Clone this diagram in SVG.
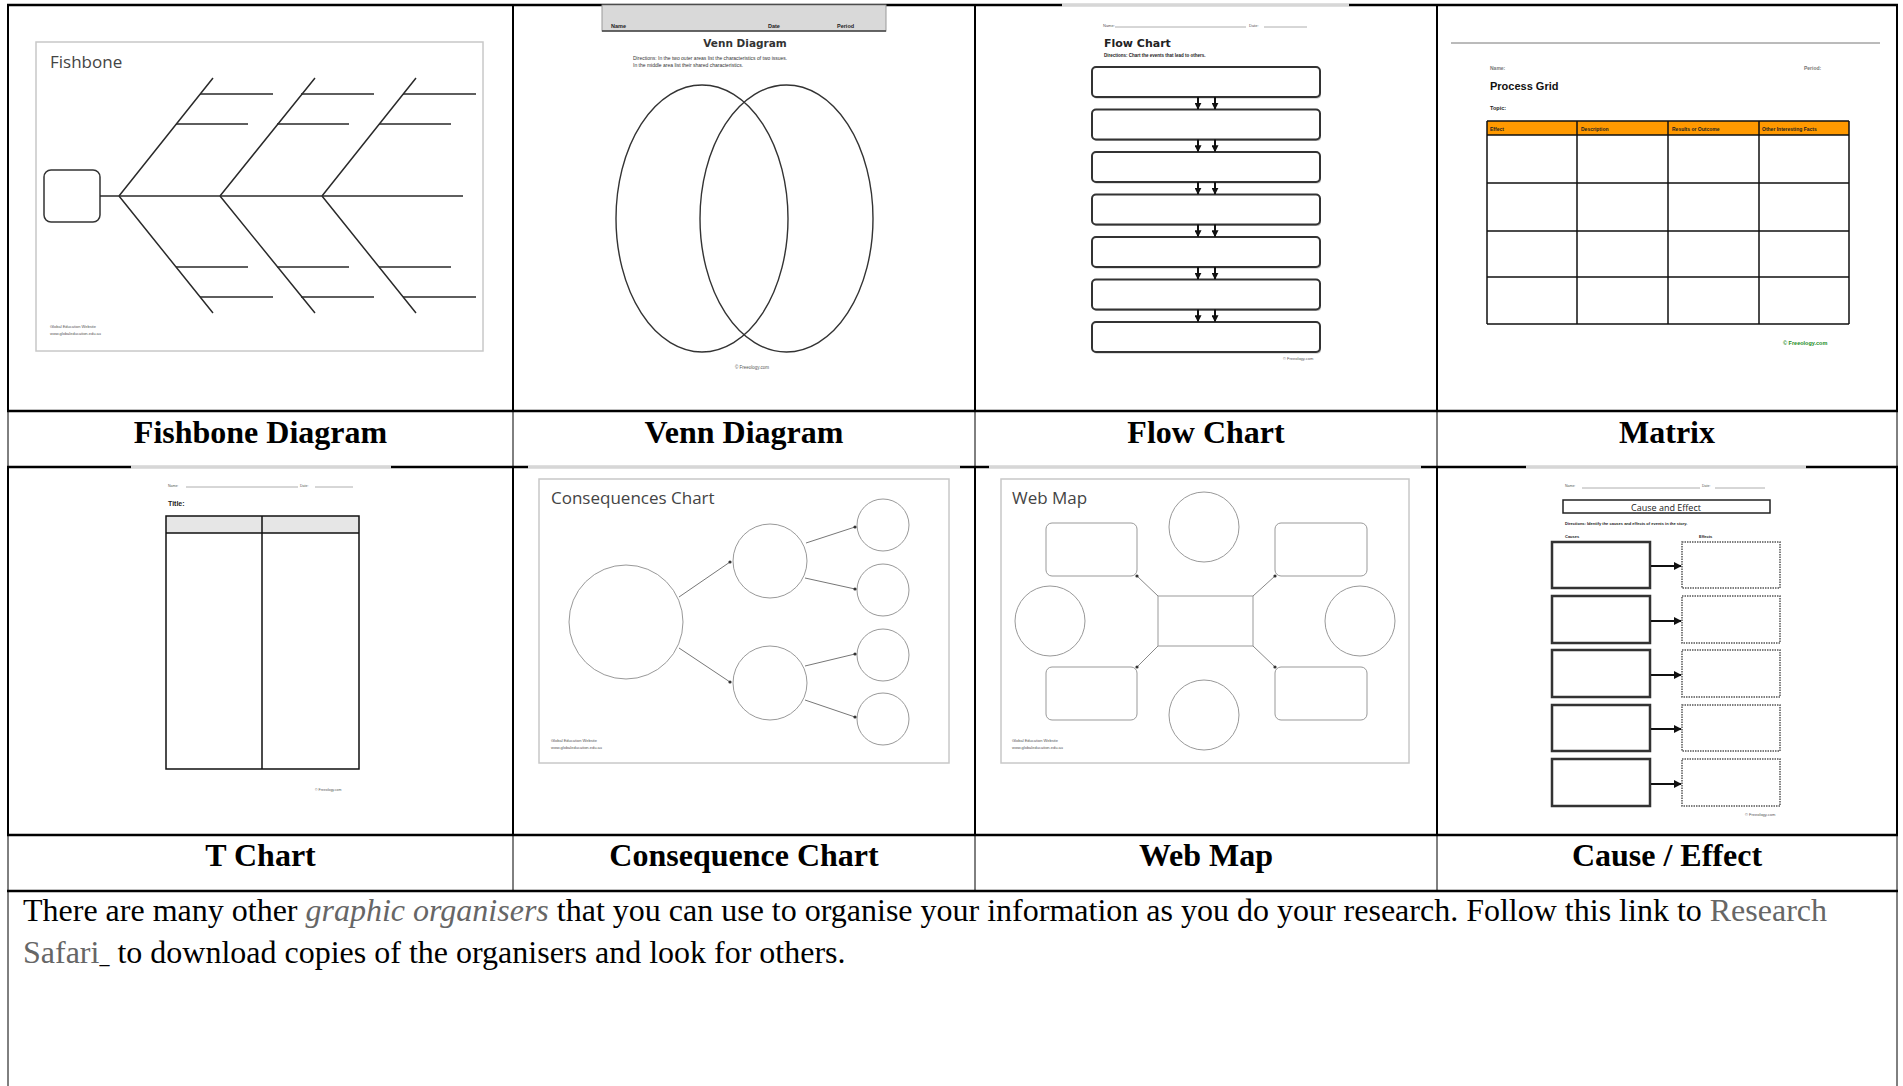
<svg xmlns="http://www.w3.org/2000/svg" width="1903" height="1086" viewBox="0 0 1903 1086">
<style>
.bd{stroke:#000;fill:none}
.lbl{font-family:"Liberation Serif","Times New Roman",serif;font-weight:bold;font-size:32px;fill:#000;text-anchor:middle}
.body{font-family:"Liberation Serif","Times New Roman",serif;font-size:32px;fill:#000}
.gr{fill:#666}
.frame{fill:#fff;stroke:#c8c8c8;stroke-width:1.5}
.ttl{font-family:"Open Sans","Noto Sans",sans-serif;font-size:17px;fill:#444}
.bone{stroke:#2a2a2a;stroke-width:1.5;fill:none}
.thin{stroke:#8a8a8a;stroke-width:1;fill:none}
.tiny{font-family:"Liberation Sans",Arial,sans-serif;font-size:4.5px;fill:#555}
.tinyb{font-family:"Liberation Sans",Arial,sans-serif;font-size:5px;font-weight:bold;fill:#222}
.ov{fill:#fff}
.ovl{stroke:#999;stroke-width:0.8}
.fbox{fill:#fff;stroke:#333;stroke-width:2}
.gridl{stroke:#111;stroke-width:1.5;fill:none}
.cbox{fill:#fff;stroke:#333;stroke-width:2.5}
.ebox{fill:#fff;stroke:#555;stroke-width:1.5;stroke-dasharray:1.5 1}
.dot{fill:#333}
</style>
<defs>
<marker id="ah" viewBox="0 0 10 10" refX="9" refY="5" markerWidth="4" markerHeight="4" orient="auto-start-reverse"><path d="M0,0 L10,5 L0,10 z" fill="#111"/></marker>
<marker id="ahf" viewBox="0 0 10 10" refX="9" refY="5" markerWidth="3.5" markerHeight="3.5" orient="auto"><path d="M0,0 L10,5 L0,10 z" fill="#111"/></marker>
</defs>
<rect x="0" y="0" width="1903" height="1086" fill="#fff"/>

<g id="table-borders">
<line class="bd" x1="7" y1="5" x2="1898" y2="5" stroke-width="2.5"/>
<line class="bd" x1="7" y1="411" x2="1898" y2="411" stroke-width="2.5"/>
<line class="bd" x1="7" y1="467" x2="1898" y2="467" stroke-width="2.5"/>
<line class="bd" x1="7" y1="835" x2="1898" y2="835" stroke-width="2.5"/>
<line class="bd" x1="7" y1="891" x2="1898" y2="891" stroke-width="2.5"/>
<g stroke-width="2">
<line class="bd" x1="8" y1="5" x2="8" y2="411"/><line class="bd" x1="513" y1="5" x2="513" y2="411"/><line class="bd" x1="975" y1="5" x2="975" y2="411"/><line class="bd" x1="1437" y1="5" x2="1437" y2="411"/><line class="bd" x1="1897" y1="5" x2="1897" y2="411"/>
<line class="bd" x1="8" y1="467" x2="8" y2="835"/><line class="bd" x1="513" y1="467" x2="513" y2="835"/><line class="bd" x1="975" y1="467" x2="975" y2="835"/><line class="bd" x1="1437" y1="467" x2="1437" y2="835"/><line class="bd" x1="1897" y1="467" x2="1897" y2="835"/>
</g>
<g stroke-width="1">
<line class="bd" x1="8" y1="411" x2="8" y2="467"/><line class="bd" x1="513" y1="411" x2="513" y2="467"/><line class="bd" x1="975" y1="411" x2="975" y2="467"/><line class="bd" x1="1437" y1="411" x2="1437" y2="467"/><line class="bd" x1="1897" y1="411" x2="1897" y2="467"/>
<line class="bd" x1="8" y1="835" x2="8" y2="891"/><line class="bd" x1="513" y1="835" x2="513" y2="891"/><line class="bd" x1="975" y1="835" x2="975" y2="891"/><line class="bd" x1="1437" y1="835" x2="1437" y2="891"/><line class="bd" x1="1897" y1="835" x2="1897" y2="891"/>
<line class="bd" x1="8" y1="891" x2="8" y2="1086"/><line class="bd" x1="1897" y1="891" x2="1897" y2="1086"/>
</g>
</g>

<g id="fishbone">
<rect class="frame" x="36" y="42" width="447" height="309"/>
<text class="ttl" x="50" y="68">Fishbone</text>
<rect x="44" y="170" width="56" height="52" rx="7" fill="none" stroke="#333" stroke-width="1.5"/>
<line class="bone" x1="100" y1="196" x2="463" y2="196"/>
<path class="bone" d="M119,196 L213,78 M119,196 L213,313 M220,196 L315,78 M220,196 L315,313 M322,196 L416,78 M322,196 L416,313"/>
<path class="bone" d="M200,94 H273 M176,124 H248 M301,94 H374 M277,124 H349 M403,94 H476 M379,124 H451 M176,267 H248 M200,297 H273 M277,267 H349 M301,297 H374 M379,267 H451 M403,297 H476"/>
<text class="tiny" x="50" y="328" style="font-size:4px">Global Education Website</text>
<text class="tiny" x="50" y="335" style="font-size:4px">www.globaleducation.edu.au</text>
</g>

<g id="venn">
<rect x="602" y="5" width="284" height="26" fill="#d9d9d9" stroke="#999" stroke-width="1"/>
<line x1="602" y1="31" x2="886" y2="31" stroke="#444" stroke-width="1.5"/>
<text class="tinyb" x="611" y="28" style="font-size:5.5px">Name</text>
<text class="tinyb" x="768" y="28" style="font-size:5.5px">Date</text>
<text class="tinyb" x="837" y="28" style="font-size:5.5px">Period</text>
<text x="745" y="47" text-anchor="middle" font-family="'DejaVu Sans',Verdana,sans-serif" font-weight="bold" font-size="10.5" fill="#333">Venn Diagram</text>
<text class="tiny" x="633" y="60" style="font-size:5px;fill:#333">Directions: In the two outer areas list the characteristics of two issues.</text>
<text class="tiny" x="633" y="67" style="font-size:5px;fill:#333">In the middle area list their shared characteristics.</text>
<ellipse cx="702" cy="218.5" rx="86" ry="133.5" fill="none" stroke="#333" stroke-width="1.4"/>
<ellipse cx="786.5" cy="218.5" rx="86.5" ry="133.5" fill="none" stroke="#333" stroke-width="1.4"/>
<text class="tiny" x="752" y="369" text-anchor="middle">© Freeology.com</text>
</g>

<g id="flow-chart">
<rect class="ov" x="1062" y="3.5" width="287" height="3"/>
<line class="ovl" x1="1062" y1="5" x2="1349" y2="5"/>
<text class="tiny" x="1103" y="27" style="font-size:4px">Name:</text>
<line class="ovl" x1="1115" y1="27" x2="1246" y2="27"/>
<text class="tiny" x="1249" y="27" style="font-size:4px">Date:</text>
<line class="ovl" x1="1264" y1="27" x2="1307" y2="27"/>
<text x="1104" y="47" font-family="'DejaVu Sans',Verdana,sans-serif" font-weight="bold" font-size="11" fill="#222">Flow Chart</text>
<text class="tinyb" x="1104" y="57" style="font-size:4.5px">Directions: Chart the events that lead to others.</text>
<g fill="#bbb">
<rect x="1093" y="68.5" width="228" height="30" rx="4"/><rect x="1093" y="111" width="228" height="30" rx="4"/><rect x="1093" y="153.5" width="228" height="30" rx="4"/><rect x="1093" y="196" width="228" height="30" rx="4"/><rect x="1093" y="238.5" width="228" height="30" rx="4"/><rect x="1093" y="281" width="228" height="30" rx="4"/><rect x="1093" y="323.5" width="228" height="30" rx="4"/>
</g>
<rect class="fbox" x="1092" y="67" width="228" height="30" rx="4"/>
<rect class="fbox" x="1092" y="109.5" width="228" height="30" rx="4"/>
<rect class="fbox" x="1092" y="152" width="228" height="30" rx="4"/>
<rect class="fbox" x="1092" y="194.5" width="228" height="30" rx="4"/>
<rect class="fbox" x="1092" y="237" width="228" height="30" rx="4"/>
<rect class="fbox" x="1092" y="279.5" width="228" height="30" rx="4"/>
<rect class="fbox" x="1092" y="322" width="228" height="30" rx="4"/>
<text class="tiny" x="1283" y="360" style="font-size:4px">© Freeology.com</text>
</g>

<g id="matrix">
<line x1="1451" y1="43" x2="1880" y2="43" stroke="#777" stroke-width="1"/>
<text class="tinyb" x="1490" y="70" style="fill:#777">Name:</text>
<text class="tinyb" x="1804" y="70" style="fill:#777">Period:</text>
<text x="1490" y="90" font-family="'Liberation Sans',Arial,sans-serif" font-weight="bold" font-size="11" fill="#111">Process Grid</text>
<text class="tinyb" x="1490" y="110" style="font-size:5.5px">Topic:</text>
<rect x="1487" y="121" width="362" height="14" fill="#ff9900"/>
<path class="gridl" d="M1487,121 V324 M1577,121 V324 M1668,121 V324 M1759,121 V324 M1849,121 V324 M1487,121 H1849 M1487,135 H1849 M1487,183 H1849 M1487,231 H1849 M1487,277 H1849 M1487,324 H1849"/>
<text class="tinyb" x="1490" y="130.5">Effect</text>
<text class="tinyb" x="1581" y="130.5">Description</text>
<text class="tinyb" x="1672" y="130.5">Results or Outcome</text>
<text class="tinyb" x="1762" y="130.5">Other Interesting Facts</text>
<text class="tinyb" x="1783" y="345" style="font-size:5.5px;fill:#1a8c1a">© Freeology.com</text>
</g>

<g id="t-chart">
<rect class="ov" x="131" y="465.5" width="260" height="3"/>
<line class="ovl" x1="131" y1="467" x2="391" y2="467"/>
<text class="tiny" x="168" y="487" style="font-size:3.5px">Name:</text>
<line class="ovl" x1="186" y1="487" x2="298" y2="487"/>
<text class="tiny" x="300" y="487" style="font-size:3.5px">Date:</text>
<line class="ovl" x1="315" y1="487" x2="353" y2="487"/>
<text class="tinyb" x="168" y="506" style="font-size:7px">Title:</text>
<rect x="166" y="516" width="193" height="17" fill="#e6e6e6"/>
<path class="gridl" d="M166,516 H359 V769 H166 Z M166,533 H359 M262,516 V769"/>
<text class="tiny" x="315" y="791" style="font-size:3.5px">© Freeology.com</text>
</g>

<g id="consequence-chart">
<rect class="ov" x="528" y="465.5" width="432" height="3"/>
<line class="ovl" x1="528" y1="467" x2="960" y2="467"/>
<rect class="frame" x="539" y="479" width="410" height="284"/>
<text class="ttl" x="551" y="504">Consequences Chart</text>
<g fill="none" stroke="#999" stroke-width="1">
<circle cx="626" cy="622" r="57"/>
<circle cx="770" cy="561" r="37"/><circle cx="770" cy="683" r="37"/>
<circle cx="883" cy="525" r="26"/><circle cx="883" cy="590" r="26"/><circle cx="883" cy="655" r="26"/><circle cx="883" cy="719" r="26"/>
</g>
<path d="M679,597 L730,562 M679,648 L730,682 M806,543 L855,527 M805,578 L855,589 M805,666 L855,654 M805,700 L855,717" stroke="#777" stroke-width="1" fill="none"/>
<g class="dot"><circle cx="730" cy="562" r="1.6"/><circle cx="730" cy="682" r="1.6"/><circle cx="855" cy="527" r="1.6"/><circle cx="855" cy="589" r="1.6"/><circle cx="855" cy="654" r="1.6"/><circle cx="855" cy="717" r="1.6"/></g>
<text class="tiny" x="551" y="742" style="font-size:4px">Global Education Website</text>
<text class="tiny" x="551" y="749" style="font-size:4px">www.globaleducation.edu.au</text>
</g>

<g id="web-map">
<rect class="ov" x="989" y="465.5" width="432" height="3"/>
<line class="ovl" x1="989" y1="467" x2="1421" y2="467"/>
<rect class="frame" x="1001" y="479" width="408" height="284"/>
<text class="ttl" x="1012" y="504">Web Map</text>
<g fill="none" stroke="#999" stroke-width="1">
<circle cx="1204" cy="527" r="35"/><circle cx="1204" cy="715" r="35"/><circle cx="1050" cy="621" r="35"/><circle cx="1360" cy="621" r="35"/>
<rect x="1046" y="523" width="91" height="53" rx="6"/><rect x="1275" y="523" width="92" height="53" rx="6"/>
<rect x="1046" y="667" width="91" height="53" rx="6"/><rect x="1275" y="667" width="92" height="53" rx="6"/>
<rect x="1158" y="596" width="95" height="50"/>
</g>
<path d="M1158,596 L1137,576 M1253,596 L1275,576 M1158,646 L1137,667 M1253,646 L1275,667" stroke="#888" stroke-width="1" fill="none"/>
<g class="dot"><circle cx="1137" cy="576" r="1.6"/><circle cx="1275" cy="576" r="1.6"/><circle cx="1137" cy="667" r="1.6"/><circle cx="1275" cy="667" r="1.6"/></g>
<text class="tiny" x="1012" y="742" style="font-size:4px">Global Education Website</text>
<text class="tiny" x="1012" y="749" style="font-size:4px">www.globaleducation.edu.au</text>
</g>

<g id="cause-effect">
<rect class="ov" x="1526" y="465.5" width="280" height="3"/>
<line class="ovl" x1="1526" y1="467" x2="1806" y2="467"/>
<text class="tiny" x="1565" y="487" style="font-size:3.5px">Name:</text>
<line class="ovl" x1="1582" y1="488" x2="1700" y2="488"/>
<text class="tiny" x="1702" y="487" style="font-size:3.5px">Date:</text>
<line class="ovl" x1="1715" y1="488" x2="1765" y2="488"/>
<rect x="1563" y="500" width="207" height="13" fill="#fff" stroke="#222" stroke-width="1.5"/>
<text x="1666" y="510.5" text-anchor="middle" font-family="'Open Sans','Noto Sans',sans-serif" font-size="9" fill="#222">Cause and Effect</text>
<text class="tinyb" x="1565" y="525" style="font-size:4px">Directions: Identify the causes and effects of events in the story.</text>
<text class="tinyb" x="1565" y="538" style="font-size:4px">Causes</text>
<text class="tinyb" x="1699" y="538" style="font-size:4px">Effects</text>
<rect class="cbox" x="1552" y="542" width="98" height="46"/><rect class="cbox" x="1552" y="596" width="98" height="47"/><rect class="cbox" x="1552" y="650" width="98" height="47"/><rect class="cbox" x="1552" y="705" width="98" height="46"/><rect class="cbox" x="1552" y="759" width="98" height="47"/>
<rect class="ebox" x="1682" y="542" width="98" height="46"/><rect class="ebox" x="1682" y="596" width="98" height="47"/><rect class="ebox" x="1682" y="650" width="98" height="47"/><rect class="ebox" x="1682" y="705" width="98" height="46"/><rect class="ebox" x="1682" y="759" width="98" height="47"/>
<text class="tiny" x="1745" y="816" style="font-size:4px">© Freeology.com</text>
</g>

<g id="connectors">
<g stroke="#111" stroke-width="2" marker-end="url(#ahf)">
<line x1="1198" y1="97" x2="1198" y2="109"/><line x1="1215" y1="97" x2="1215" y2="109"/>
<line x1="1198" y1="139.5" x2="1198" y2="151.5"/><line x1="1215" y1="139.5" x2="1215" y2="151.5"/>
<line x1="1198" y1="182" x2="1198" y2="194"/><line x1="1215" y1="182" x2="1215" y2="194"/>
<line x1="1198" y1="224.5" x2="1198" y2="236.5"/><line x1="1215" y1="224.5" x2="1215" y2="236.5"/>
<line x1="1198" y1="267" x2="1198" y2="279"/><line x1="1215" y1="267" x2="1215" y2="279"/>
<line x1="1198" y1="309.5" x2="1198" y2="321.5"/><line x1="1215" y1="309.5" x2="1215" y2="321.5"/>
</g>
<g stroke="#111" stroke-width="2" marker-end="url(#ah)">
<line x1="1651" y1="566" x2="1681" y2="566"/><line x1="1651" y1="621" x2="1681" y2="621"/><line x1="1651" y1="675" x2="1681" y2="675"/><line x1="1651" y1="729" x2="1681" y2="729"/><line x1="1651" y1="784" x2="1681" y2="784"/>
</g>
</g>

<g id="labels">
<text class="lbl" x="260.5" y="443">Fishbone Diagram</text>
<text class="lbl" x="744" y="443">Venn Diagram</text>
<text class="lbl" x="1206" y="443">Flow Chart</text>
<text class="lbl" x="1667" y="443">Matrix</text>
<text class="lbl" x="260.5" y="866">T Chart</text>
<text class="lbl" x="744" y="866">Consequence Chart</text>
<text class="lbl" x="1206" y="866">Web Map</text>
<text class="lbl" x="1667" y="866">Cause / Effect</text>
</g>

<g id="note">
<text class="body" x="23" y="921">There are many other <tspan class="gr" font-style="italic">graphic organisers</tspan> that you can use to organise your information as you do your research. Follow this link to <tspan class="gr">Research</tspan></text>
<text class="body" x="23" y="963"><tspan class="gr">Safari</tspan><tspan font-size="20">_</tspan> to download copies of the organisers and look for others.</text>
</g>
</svg>
